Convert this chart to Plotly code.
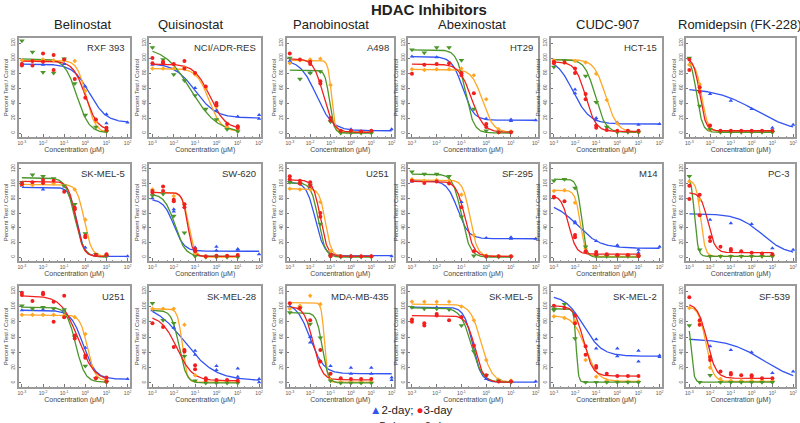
import numpy as np
import plotly.graph_objects as go

# ---------------- data ----------------
drugs = ["Belinostat", "Quisinostat", "Panobinostat", "Abexinostat", "CUDC-907", "Romidepsin (FK-228)"]
cell_lines = ["RXF 393", "NCI/ADR-RES", "A498", "HT29", "HCT-15", "",
              "SK-MEL-5", "SW-620", "U251", "SF-295", "M14", "PC-3",
              "U251", "SK-MEL-28", "MDA-MB-435", "SK-MEL-5", "SK-MEL-2", "SF-539"]
x_tick_exponents = [-3, -2, -1, 0, 1, 2]
y_ticks = [0, 20, 40, 60, 80, 100, 120]

# fitted curve parameters per panel: (top, bottom, log10 EC50, Hill slope)
blue_fit = [(92, 14, 0.2, 1.1), (93, 20, -1.0, 0.9), (98, 3, -1.7, 1.1), (102, 17, -0.95, 2),
            (100, 12, -2.1, 1.1), (60, 0, 0.2, 0.45),
            (95, 1, -0.4, 2.5), (79, 8, -2.0, 1.8), (102, 2, -1.75, 2), (104, 25, -1.15, 2),
            (75, 12, -1.9, 0.8), (59, 3, 0.5, 0.75),
            (95, 5, -0.1, 1.5), (105, 3, -1.5, 0.6), (105, 12, -2.0, 1.3), (99, 1, -0.55, 2.5),
            (115, 35, -1.6, 1.0), (58, 0, 0.6, 0.5)]
red_fit = [(96, 3, 0.0, 1.5), (92, 5, -0.3, 1.2), (99, 1, -1.35, 1.8), (92, 1, -0.6, 1.8),
           (95, 2, -1.5, 1.8), (100, 3, -2.5, 3),
           (103, 1, -0.45, 2.5), (88, 1, -1.35, 3.5), (105, 1, -1.5, 2.5), (103, 1, -0.85, 2.5),
           (84, 4, -2.3, 2.5), (88, 6, -2.1, 2.5),
           (114, 2, -0.35, 1.1), (88, 3, -1.85, 1.2), (100, 4, -1.85, 2), (88, 1, -0.45, 2.5),
           (101, 9, -1.6, 2), (104, 6, -2.15, 2)]
orange_fit = [(97, 0, 0.05, 2), (86, 2, -0.35, 1.5), (97, 1, -0.95, 5), (85, 1, -0.15, 2),
              (98, 1, -0.55, 1.6), (95, 2, -2.4, 3),
              (99, 1, -0.05, 2.5), (88, 0, -1.3, 3), (93, 1, -1.25, 3), (105, 1, -0.65, 3),
              (91, 1, -1.75, 3.5), (104, 1, -2.45, 4),
              (89, 3, 0.1, 2.5), (97, 1, -1.6, 4), (105, 1, -1.3, 6), (103, 1, -0.2, 2),
              (88, 2, -1.5, 1.5), (100, 2, -2.2, 2.5)]
green_fit = [(99, 0, -0.4, 1.5), (115, 0, -1.2, 0.7), (84, 0, -1.05, 4), (111, 0, -0.85, 2.5),
             (98, 1, -1.05, 1.8), (103, 1, -2.65, 3),
             (108, 0, -0.5, 2), (86, 1, -1.95, 1.8), (101, 0, -1.6, 2.5), (113, 0, -1.0, 2.5),
             (106, 0, -1.7, 4), (112, 1, -2.75, 5),
             (99, 1, -0.45, 2), (95, 0, -1.75, 2.5), (92, 0, -1.4, 3), (98, 1, -0.6, 2),
             (97, 1, -1.95, 8), (90, 1, -2.92, 6)]

# measured points per panel: {log10 dose: [values]}
blue_pts = [
    {-3: [93], -2: [91], -1: [92], 0: [62], 1: [25, 13], 2: [14]},
    {-3: [91], -2: [92], -1: [60], 0: [30], 1: [22], 2: [24, 19]},
    {-3: [96], -2: [80], -1: [18], 0: [5], 1: [3], 2: [5]},
    {-3: [102], -2: [101], -1: [80], 0: [19], 1: [18, 16], 2: [17]},
    {-2: [58, 53], -1: [20, 17], 0: [14], 1: [11], 2: [12]},
    {-2: [52], -1: [43], 0: [32], 1: [7], 2: [11]},
    {-3: [97], -2: [92], -1: [96], 0: [13], 1: [2], 2: [1]},
    {-3: [80], -2: [65, 62], -1: [13], 0: [14, 9], 1: [11, 10], 2: [4]},
    {-3: [104], -2: [94], -1: [3], 0: [2], 1: [2], 2: [1]},
    {-3: [103], -2: [104], -1: [75], 0: [26], 1: [27, 25], 2: [25]},
    {-2: [48, 46], -1: [22], 0: [16, 15], 1: [10, 6], 2: [14]},
    {-2: [51], -1: [46], 0: [45], 1: [12], 2: [10]},
    {-3: [95], -2: [96], -1: [95], 0: [46], 1: [4], 2: [5]},
    {-3: [95], -2: [72], -1: [42, 37], 0: [22, 17], 1: [19, 8], 2: [5, 1]},
    {-3: [100], -2: [60, 53], -1: [22], 0: [20, 12], 1: [20, 12], 2: [7, 4]},
    {-3: [99], -2: [99], -1: [87], 0: [5], 1: [3], 2: [2]},
    {-2: [90], -1: [57, 45], 0: [45, 35], 1: [42, 28], 2: [36, 34]},
    {-2: [48], -1: [43], 0: [40], 1: [13], 2: [15]},
]
red_pts = [
    {-3: [92, 90], -2.5: [96, 90], -2: [106, 95], -1.5: [104, 84], -1: [98], -0.5: [72], 0: [47], 0.5: [18], 1: [7, 4]},
    {-3: [100, 93], -2.5: [95, 93], -2: [92], -1.5: [96, 86], -1: [80], -0.5: [62], 0: [40, 37], 0.5: [12], 1: [9, 7]},
    {-3: [106], -2.5: [98], -2: [95, 92], -1.5: [69, 66], -1: [20, 17], -0.5: [3], 0: [3], 0.5: [2], 1: [3]},
    {-3: [79], -2.5: [91], -2: [92], -1.5: [93], -1: [80, 77], -0.5: [53], 0: [12, 8], 0.5: [1], 1: [1]},
    {-3: [95, 93], -2.5: [94], -2: [86, 80], -1.5: [52, 45], -1: [10, 7], -0.5: [4], 0: [3], 0.5: [3], 1: [3]},
    {-3: [98, 84], -2.5: [61, 55], -2: [10], -1.5: [3], -1: [3], -0.5: [3], 0: [3], 0.5: [3], 1: [3]},
    {-3: [101, 99], -2.5: [102], -2: [105, 101], -1.5: [104], -1: [89], -0.5: [67, 65], 0: [29, 27], 0.5: [3], 1: [4, 3]},
    {-3: [90, 88], -2.5: [96, 90], -2: [78, 76], -1.5: [72, 68], -1: [11, 8], -0.5: [1], 0: [2], 0.5: [2], 1: [3]},
    {-3: [110, 106], -2.5: [104, 100], -2: [102, 97], -1.5: [60, 55], -1: [3, 1], -0.5: [1], 0: [1], 0.5: [1], 1: [1]},
    {-3: [104], -2.5: [101], -2: [103], -1.5: [100], -1: [68], -0.5: [8], 0: [1], 0.5: [1], 1: [1]},
    {-3: [82, 81], -2.5: [76], -2: [30, 27], -1.5: [8], -1: [7, 4], -0.5: [4], 0: [3], 0.5: [3], 1: [3, 1]},
    {-3: [97, 79], -2.5: [85, 57], -2: [27, 22], -1.5: [14], -1: [11, 9], -0.5: [8], 0: [6], 0.5: [5], 1: [4]},
    {-3: [118, 115], -2.5: [107], -2: [118, 116], -1.5: [106, 80], -1: [114, 86], -0.5: [62, 58], 0: [36, 33], 0.5: [6], 1: [7, 2]},
    {-3: [78], -2.5: [73], -2: [47], -1.5: [43, 41], -1: [23, 18], -0.5: [6, 4], 0: [4], 0.5: [4], 1: [3]},
    {-3: [104], -2.5: [98], -2: [82], -1.5: [43, 28], -1: [12], -0.5: [6], 0: [5], 0.5: [5], 1: [5]},
    {-3: [83, 80], -2.5: [78, 75], -2: [90, 88], -1.5: [82], -1: [86], -0.5: [49], 0: [10], 0.5: [2], 1: [2]},
    {-3: [101], -2.5: [98], -2: [88, 78], -1.5: [48, 37], -1: [22, 20], -0.5: [12], 0: [9], 0.5: [9], 1: [9]},
    {-3: [112], -2.5: [82, 76], -2: [34, 30], -1.5: [15], -1: [13, 11], -0.5: [10], 0: [10, 8], 0.5: [6], 1: [6]},
]
orange_pts = [
    {-3: [97], -2.5: [96], -2: [98], -1.5: [97], -1: [98], -0.5: [96], 0: [56], 0.5: [15], 1: [2]},
    {-3: [86], -2.5: [86], -2: [86], -1.5: [87], -1: [78], -0.5: [60], 0: [35], 0.5: [8], 1: [5]},
    {-3: [93], -2.5: [97], -2: [98], -1.5: [99], -1: [64], -0.5: [1], 0: [1], 0.5: [1], 1: [1]},
    {-3: [85], -2.5: [84], -2: [85], -1.5: [85], -1: [86], -0.5: [77], 0: [45], 0.5: [5], 1: [2]},
    {-3: [97], -2.5: [94], -2: [96], -1.5: [94], -1: [79], -0.5: [44], 0: [13], 0.5: [2], 1: [1]},
    {-3: [91], -2.5: [65], -2: [4], -1.5: [2], -1: [2], -0.5: [2], 0: [2], 0.5: [2], 1: [2]},
    {-3: [98], -2.5: [98], -2: [101], -1.5: [100], -1: [97], -0.5: [92], 0: [51], 0.5: [4], 1: [2]},
    {-3: [92], -2.5: [88], -2: [83], -1.5: [72], -1: [5], -0.5: [0], 0: [0], 0.5: [0], 1: [1]},
    {-3: [93], -2.5: [92], -2: [92], -1.5: [75], -1: [8], -0.5: [1], 0: [1], 0.5: [1], 1: [1]},
    {-3: [106], -2.5: [104], -2: [105], -1.5: [104], -1: [85], -0.5: [30], 0: [2], 0.5: [1], 1: [1]},
    {-3: [90], -2.5: [91], -2: [74], -1.5: [12], -1: [1], -0.5: [1], 0: [1], 0.5: [1], 1: [1]},
    {-3: [103], -2.5: [78], -2: [1], -1.5: [1], -1: [1], -0.5: [1], 0: [1], 0.5: [1], 1: [1]},
    {-3: [89], -2.5: [89], -2: [89], -1.5: [89], -1: [88], -0.5: [86], 0: [64], 0.5: [6], 1: [3]},
    {-3: [97], -2.5: [97], -2: [97], -1.5: [76], -1: [10], -0.5: [1], 0: [1], 0.5: [1], 1: [1]},
    {-3: [97], -2.5: [101], -2: [114], -1.5: [103], -1: [4], -0.5: [1], 0: [1], 0.5: [1], 1: [1]},
    {-3: [106], -2.5: [106], -2: [106], -1.5: [106], -1: [100], -0.5: [82], 0: [30], 0.5: [4], 1: [3]},
    {-3: [87], -2.5: [85], -2: [81], -1.5: [30], -1: [8], -0.5: [3], 0: [2], 0.5: [2], 1: [2]},
    {-3: [98], -2.5: [80], -2: [20], -1.5: [5], -1: [3], -0.5: [3], 0: [3], 0.5: [3], 1: [3]},
]
green_pts = [
    {-3: [123], -2.5: [108], -2: [81], -1.5: [80], -1: [99], -0.5: [66], 0: [24], 0.5: [8], 1: [2]},
    {-3: [114], -2.5: [98], -2: [78], -1.5: [70], -1: [50], -0.5: [32], 0: [18], 0.5: [5], 1: [2]},
    {-3: [100], -2.5: [72], -2: [80], -1.5: [82], -1: [15], -0.5: [0], 0: [0], 0.5: [0], 1: [0]},
    {-3: [111], -2.5: [107], -2: [114], -1.5: [114], -1: [97], -0.5: [32], 0: [3], 0.5: [1], 1: [1]},
    {-3: [88], -2.5: [97], -2: [135], -1.5: [76], -1: [41], -0.5: [8], 0: [1], 0.5: [1], 1: [1]},
    {-3: [100], -2.5: [36], -2: [5], -1.5: [1], -1: [1], -0.5: [1], 0: [1], 0.5: [1], 1: [1]},
    {-3: [102], -2.5: [112], -2: [110], -1.5: [107], -1: [97], -0.5: [72], 0: [32], 0.5: [4], 1: [1]},
    {-3: [84], -2.5: [86], -2: [56], -1.5: [33], -1: [1], -0.5: [0], 0: [0], 0.5: [0], 1: [0]},
    {-3: [102], -2.5: [100], -2: [98], -1.5: [45], -1: [2], -0.5: [0], 0: [0], 0.5: [0], 1: [0]},
    {-3: [116], -2.5: [113], -2: [113], -1.5: [110], -1: [55], -0.5: [2], 0: [0], 0.5: [0], 1: [0]},
    {-3: [104], -2.5: [106], -2: [94], -1.5: [14], -1: [1], -0.5: [1], 0: [1], 0.5: [1], 1: [1]},
    {-3: [110], -2.5: [10], -2: [1], -1.5: [1], -1: [1], -0.5: [1], 0: [1], 0.5: [1], 1: [1]},
    {-3: [101], -2.5: [97], -2: [99], -1.5: [97], -1: [96], -0.5: [60], 0: [22], 0.5: [6], 1: [1]},
    {-3: [104], -2.5: [82], -2: [78], -1.5: [35], -1: [3], -0.5: [0], 0: [0], 0.5: [0], 1: [0]},
    {-3: [92], -2.5: [98], -2: [77], -1.5: [59], -1: [3], -0.5: [0], 0: [0], 0.5: [0], 1: [0]},
    {-3: [99], -2.5: [97], -2: [97], -1.5: [96], -1: [75], -0.5: [41], 0: [10], 0.5: [3], 1: [1]},
    {-3: [97, 95], -2.5: [103], -2: [58], -1.5: [1], -1: [1], -0.5: [1], 0: [1], 0.5: [1], 1: [1]},
    {-3: [75], -2.5: [1], -2: [10], -1.5: [1], -1: [1], -0.5: [1], 0: [1], 0.5: [1], 1: [1]},
]

# ---------------- styling / layout ----------------
W, H = 800, 423
FONT = "Liberation Sans, Arial, sans-serif"
col_px = [(18, 129), (149, 261), (287, 394), (409, 539), (552, 663), (688, 797)]
row_px = [(38, 137), (164, 261), (286, 387)]
title_cx = [82, 190, 331, 473, 609, 742]

BLUE, RED, ORANGE, GREEN = "#3354f2", "#f0201e", "#ffa726", "#4a962a"
series = [
    (blue_fit, blue_pts, BLUE, "triangle-up", 4, 2),
    (orange_fit, orange_pts, ORANGE, "diamond", 3.5, 1),
    (green_fit, green_pts, GREEN, "triangle-down", 5, 1),
    (red_fit, red_pts, RED, "circle", 4, 1),
]

fig = go.Figure()
layout = dict(width=W, height=H, margin=dict(l=0, r=0, t=0, b=0),
              paper_bgcolor="white", plot_bgcolor="white", showlegend=False,
              font=dict(family=FONT, color="#333"))
annotations = []

for i in range(18):
    r, c = divmod(i, 6)
    n = i + 1
    xa = "x" if n == 1 else f"x{n}"
    ya = "y" if n == 1 else f"y{n}"
    xk = "xaxis" if n == 1 else f"xaxis{n}"
    yk = "yaxis" if n == 1 else f"yaxis{n}"
    x0, x1 = col_px[c]
    y0, y1 = row_px[r]

    for fits, pts, color, symbol, size, xmax in series:
        top, bot, ec, h = fits[i]
        lx = np.linspace(-3, xmax, 200)
        yy = bot + (top - bot) / (1 + 10 ** (h * (lx - ec)))
        fig.add_trace(go.Scatter(x=10 ** lx, y=yy, mode="lines",
                                 line=dict(color=color, width=1.3),
                                 xaxis=xa, yaxis=ya, hoverinfo="skip"))
    for fits, pts, color, symbol, size, xmax in series:
        px, py = [], []
        for d, vals in pts[i].items():
            for v in vals:
                px.append(10 ** d)
                py.append(v)
        fig.add_trace(go.Scatter(x=px, y=py, mode="markers",
                                 marker=dict(color=color, symbol=symbol, size=size, line=dict(width=0)),
                                 xaxis=xa, yaxis=ya))

    layout[xk] = dict(
        type="log", range=[-3.14, 2.09], domain=[x0 / W, x1 / W], anchor=ya,
        tickvals=[10 ** e for e in x_tick_exponents],
        ticktext=[f"10<sup>{e}</sup>" for e in x_tick_exponents],
        tickfont=dict(size=5, color="#555"), ticks="inside", ticklen=3, tickcolor="#777",
        minor=dict(ticks="inside", ticklen=1.5, tickcolor="#999", showgrid=False),
        showline=True, linecolor="#9a9a9a", linewidth=1.5, mirror=True,
        showgrid=False, zeroline=False,
        title=dict(text="Concentration (μM)", font=dict(size=7, color="#444"), standoff=1),
    )
    layout[yk] = dict(
        range=[-5.3, 126.7], domain=[1 - y1 / H, 1 - y0 / H], anchor=xa,
        tickvals=y_ticks, tickangle=-90,
        tickfont=dict(size=5, color="#555"), ticks="inside", ticklen=2, tickcolor="#777",
        showline=True, linecolor="#9a9a9a", linewidth=1.5, mirror=True,
        showgrid=False, zeroline=False,
        title=dict(text="Percent Test / Control", font=dict(size=6, color="#444"), standoff=1),
    )
    if cell_lines[i]:
        annotations.append(dict(text=cell_lines[i], xref=f"{xa} domain", yref=f"{ya} domain",
                                x=0.975, y=0.9, xanchor="right", yanchor="middle",
                                showarrow=False, font=dict(size=9.5, color="#333")))

for c, d in enumerate(drugs):
    annotations.append(dict(text=d, xref="paper", yref="paper", x=title_cx[c] / W, y=1 - 25 / H,
                            xanchor="center", yanchor="middle", showarrow=False,
                            font=dict(size=13, color="#222")))

annotations.append(dict(text="<b>HDAC Inhibitors</b>", xref="paper", yref="paper",
                        x=430 / W, y=1 - 9 / H, xanchor="center", yanchor="middle",
                        showarrow=False, font=dict(size=15, color="#222")))
annotations.append(dict(text=f'<span style="color:{BLUE}">▲</span>2-day; <span style="color:{RED}">●</span>3-day',
                        xref="paper", yref="paper", x=412 / W, y=1 - 410 / H,
                        xanchor="center", yanchor="middle", showarrow=False,
                        font=dict(size=11.5, color="#222")))
annotations.append(dict(text=f'<span style="color:{ORANGE}">■</span> 5-day; <span style="color:{GREEN}">■</span> 6-day',
                        xref="paper", yref="paper", x=412 / W, y=1 - 418 / H,
                        xanchor="center", yanchor="top", showarrow=False,
                        font=dict(size=11.5, color="#222")))
layout["annotations"] = annotations
fig.update_layout(**layout)
fig.write_html("out.html", config={"displayModeBar": False},
               post_script="document.body.style.margin='0px';document.body.style.overflow='hidden';")
